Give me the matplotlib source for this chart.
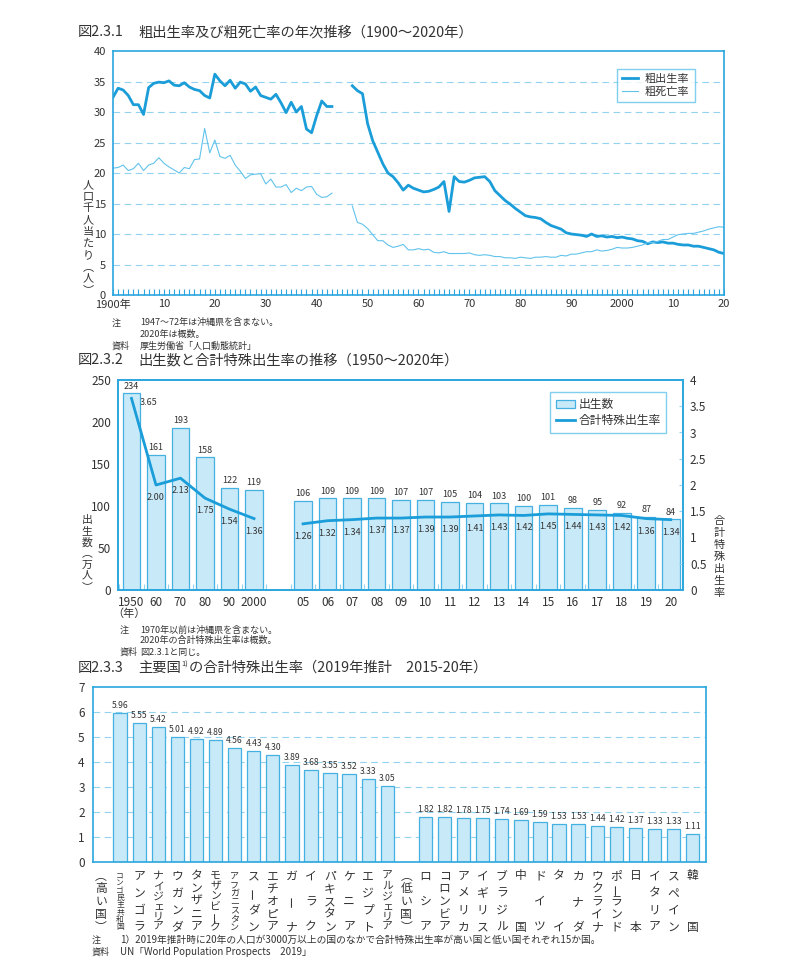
import matplotlib
matplotlib.use("Agg")
import matplotlib.pyplot as plt
import matplotlib.transforms as mtransforms
from matplotlib.patches import Patch
from matplotlib.lines import Line2D
import numpy as np

plt.rcParams['font.family'] = ['Noto Sans CJK JP', 'DejaVu Sans']
plt.rcParams['axes.unicode_minus'] = False

# ---- 図2.3.1 data (per 1000 population) ----
years_pre = list(range(1900, 1944))
birth_pre = [32.4, 33.9, 33.6, 32.7, 31.2, 31.2, 29.6, 34.0, 34.7, 34.9,
             34.8, 35.1, 34.4, 34.3, 34.8, 34.1, 33.7, 33.5, 32.7, 32.3,
             36.2, 35.1, 34.3, 35.2, 33.9, 34.9, 34.6, 33.4, 34.1, 32.7,
             32.4, 32.1, 32.9, 31.5, 29.9, 31.6, 30.0, 30.9, 27.2, 26.6,
             29.4, 31.8, 30.9, 30.9]
death_pre = [20.8, 20.9, 21.3, 20.4, 20.7, 21.6, 20.4, 21.3, 21.6, 22.5,
             21.6, 21.0, 20.5, 20.0, 20.9, 20.7, 22.2, 22.3, 27.3, 23.3,
             25.4, 22.7, 22.4, 22.9, 21.3, 20.3, 19.1, 19.7, 19.8, 19.9,
             18.2, 19.0, 17.7, 17.7, 18.1, 16.8, 17.5, 17.1, 17.7, 17.8,
             16.5, 16.0, 16.1, 16.7]
years_post = list(range(1947, 2021))
birth_post = [34.3, 33.5, 33.0,
              28.1, 25.3, 23.4, 21.5, 20.0, 19.4, 18.4, 17.2, 18.0, 17.5,
              17.2, 16.9, 17.0, 17.3, 17.7, 18.6, 13.7, 19.4, 18.6, 18.5,
              18.8, 19.2, 19.3, 19.4, 18.6, 17.1, 16.3, 15.5, 14.9, 14.2,
              13.6, 13.0, 12.8, 12.7, 12.5, 11.9, 11.4, 11.1, 10.8, 10.2,
              10.0, 9.9, 9.8, 9.6, 10.0, 9.6, 9.7, 9.5, 9.6, 9.4,
              9.5, 9.3, 9.2, 8.9, 8.8, 8.4, 8.7, 8.6, 8.7, 8.5,
              8.5, 8.3, 8.2, 8.2, 8.0, 8.0, 7.8, 7.6, 7.4, 7.0,
              6.8]
death_post = [14.6, 11.9, 11.6,
              10.9, 9.9, 8.9, 8.9, 8.2, 7.8, 8.0, 8.3, 7.4, 7.4,
              7.6, 7.4, 7.5, 7.0, 6.9, 7.1, 6.8, 6.8, 6.8, 6.8,
              6.9, 6.6, 6.5, 6.6, 6.5, 6.3, 6.3, 6.1, 6.1, 6.0,
              6.2, 6.1, 6.0, 6.2, 6.2, 6.3, 6.2, 6.2, 6.5, 6.4,
              6.7, 6.7, 6.9, 7.1, 7.1, 7.4, 7.2, 7.3, 7.5, 7.8,
              7.7, 7.7, 7.8, 8.0, 8.2, 8.6, 8.6, 8.8, 9.1, 9.1,
              9.5, 9.9, 10.0, 10.1, 10.1, 10.3, 10.5, 10.8, 11.0, 11.2,
              11.1]
decade_ticks = list(range(1900, 2021, 10))
decade_labels = ['1900年', '10', '20', '30', '40', '50', '60', '70', '80',
                 '90', '2000', '10', '20']

# ---- 図2.3.2 data ----
year_labels2 = ['1950', '60', '70', '80', '90', '2000',
                '05', '06', '07', '08', '09', '10', '11', '12', '13', '14',
                '15', '16', '17', '18', '19', '20']
births = [234, 161, 193, 158, 122, 119,
          106, 109, 109, 109, 107, 107, 105, 104, 103, 100, 101, 98, 95, 92, 87, 84]
tfr = [3.65, 2.00, 2.13, 1.75, 1.54, 1.36,
       1.26, 1.32, 1.34, 1.37, 1.37, 1.39, 1.39, 1.41, 1.43, 1.42, 1.45, 1.44,
       1.43, 1.42, 1.36, 1.34]

# ---- 図2.3.3 data ----
high_countries = ['コンゴ民主共和国', 'アンゴラ', 'ナイジェリア', 'ウガンダ', 'タンザニア',
                  'モザンビーク', 'アフガニスタン', 'スーダン', 'エチオピア', 'ガーナ',
                  'イラク', 'パキスタン', 'ケニア', 'エジプト', 'アルジェリア']
high_tfr = [5.96, 5.55, 5.42, 5.01, 4.92, 4.89, 4.56, 4.43, 4.30, 3.89,
            3.68, 3.55, 3.52, 3.33, 3.05]
low_countries = ['ロシア', 'コロンビア', 'アメリカ', 'イギリス', 'ブラジル', '中国', 'ドイツ',
                 'タイ', 'カナダ', 'ウクライナ', 'ポーランド', '日本', 'イタリア', 'スペイン', '韓国']
low_tfr = [1.82, 1.82, 1.78, 1.75, 1.74, 1.69, 1.59, 1.53, 1.53, 1.44,
           1.42, 1.37, 1.33, 1.33, 1.11]

SPINE = '#2ba6de'
LINE = '#1a9dd8'
LIGHT = '#62c3ec'
GRID = '#93d3ef'
BARF = '#c8e9f8'
BARE = '#45b1e2'
TXT = '#333333'
TSIZE = 10.3

W, H = 800, 960
fig = plt.figure(figsize=(8, 9.6), dpi=100)


def box(x0, y0, x1, y1):
    return [x0 / W, 1 - y1 / H, (x1 - x0) / W, (y1 - y0) / H]


def ftext(x, y, s, size=6.5, **kw):
    kw.setdefault('va', 'center')
    return fig.text(x / W, 1 - y / H, s, fontsize=size, color=TXT, **kw)


def vtext(x, y_top, y_bot, s, size, transform=None):
    # vertical (tategaki) text, characters spread from top to bottom
    n = len(s)
    for k, c in enumerate(s):
        yy = y_top if n == 1 else y_top + (y_bot - y_top) * k / (n - 1)
        rot = 90 if c == 'ー' else 0
        if transform is None:
            fig.text(x / W, 1 - yy / H, c, fontsize=size, color=TXT,
                     ha='center', va='center', rotation=rot)
        else:
            fig.text(x, 1 - yy / H, c, fontsize=size, color=TXT,
                     ha='center', va='center', rotation=rot, transform=transform)


def frame(ax):
    for sp in ax.spines.values():
        sp.set_color(SPINE)
        sp.set_linewidth(1.2)


# ================= 図2.3.1 =================
ftext(78, 32, '図2.3.1', size=TSIZE, ha='left')
ftext(138, 32, '粗出生率及び粗死亡率の年次推移（1900〜2020年）', size=TSIZE, ha='left')

ax1 = fig.add_axes(box(113, 51, 724, 295))
frame(ax1)
ax1.plot(years_pre, birth_pre, color=LINE, lw=2.0)
ax1.plot(years_post, birth_post, color=LINE, lw=2.0, label='粗出生率')
ax1.plot(years_pre, death_pre, color=LIGHT, lw=0.8)
ax1.plot(years_post, death_post, color=LIGHT, lw=0.8, label='粗死亡率')
ax1.set_xlim(1900, 2020)
ax1.set_ylim(0, 40)
ax1.set_yticks(range(0, 41, 5))
for v in range(5, 40, 5):
    ax1.axhline(v, color=GRID, lw=0.8, dashes=(6, 4), zorder=0)
ax1.set_xticks(decade_ticks)
ax1.set_xticklabels(decade_labels)
ax1.set_xticks(range(1900, 2021), minor=True)
ax1.tick_params(axis='x', which='both', direction='in', length=4, color=SPINE,
                width=0.8, labelsize=8, labelcolor=TXT, pad=3)
ax1.tick_params(axis='y', length=0, labelsize=8, labelcolor=TXT, pad=5)
leg1 = ax1.legend(loc='upper right', bbox_to_anchor=(0.961, 0.951), fontsize=8,
                  frameon=True, fancybox=False, handlelength=1.4, borderpad=0.5,
                  labelspacing=0.2, handletextpad=0.6)
leg1.get_frame().set_edgecolor(LIGHT)
leg1.get_frame().set_linewidth(1.0)
for t in leg1.get_texts():
    t.set_color(TXT)
vtext(88, 185, 290, '人口千人当たり︵人︶', 8)

ftext(112, 323, '注', ha='left')
ftext(140, 323, '1947〜72年は沖縄県を含まない。', ha='left')
ftext(140, 335, '2020年は概数。', ha='left')
ftext(112, 346, '資料', ha='left')
ftext(140, 346, '厚生労働省「人口動態統計」', ha='left')

# ================= 図2.3.2 =================
ftext(78, 360, '図2.3.2', size=TSIZE, ha='left')
ftext(138, 360, '出生数と合計特殊出生率の推移（1950〜2020年）', size=TSIZE, ha='left')

ax2 = fig.add_axes(box(118, 380, 683, 590))
frame(ax2)
pos = list(range(6)) + list(range(7, 7 + len(births) - 6))
ax2.bar(pos, births, width=0.72, color=BARF, edgecolor=BARE, linewidth=0.9)
for x, b in zip(pos, births):
    ax2.annotate(str(b), (x, b), xytext=(0, 2), textcoords='offset points',
                 ha='center', va='bottom', fontsize=6.5, color=TXT)
ax2.set_xlim(-0.55, pos[-1] + 0.45)
ax2.set_ylim(0, 250)
ax2.set_yticks(range(0, 251, 50))
ax2.set_xticks(pos)
ax2.set_xticklabels(year_labels2)
ax2.set_xticks([p + 0.5 for p in range(-1, pos[-1] + 1)], minor=True)
ax2.tick_params(axis='x', which='major', length=0, labelsize=8.5, labelcolor=TXT, pad=4)
ax2.tick_params(axis='x', which='minor', direction='in', length=4, color=GRID, width=0.8)
ax2.tick_params(axis='y', length=0, labelsize=8.5, labelcolor=TXT, pad=5)
ax2.annotate('（年）', (0, 0), xycoords=('data', 'axes fraction'), xytext=(-2, -17),
             textcoords='offset points', ha='center', va='center', fontsize=8, color=TXT)

ax2r = ax2.twinx()
frame(ax2r)
ax2r.plot(pos[:6], tfr[:6], color=LINE, lw=2.0)
ax2r.plot(pos[6:], tfr[6:], color=LINE, lw=2.0)
for i, (x, v) in enumerate(zip(pos, tfr)):
    off = (12, -3) if i == 0 else (0, -9)
    ax2r.annotate(f'{v:.2f}', (x, v), xytext=off, textcoords='offset points',
                  ha='center', va='center', fontsize=6.5, color=TXT)
ax2r.set_ylim(0, 4)
ax2r.set_yticks(np.arange(0, 4.01, 0.5))
ax2r.set_yticklabels(['0', '0.5', '1', '1.5', '2', '2.5', '3', '3.5', '4'])
ax2r.tick_params(axis='y', direction='in', length=3, color=GRID, labelsize=8.5,
                 labelcolor=TXT, pad=5)
handles2 = [Patch(facecolor=BARF, edgecolor=BARE, linewidth=0.9),
            Line2D([], [], color=LINE, lw=2.0)]
leg2 = ax2r.legend(handles2, ['出生数', '合計特殊出生率'], loc='upper right',
                   bbox_to_anchor=(0.981, 0.971), fontsize=8.5, frameon=True,
                   fancybox=False, handlelength=1.6, borderpad=0.5, labelspacing=0.3,
                   handletextpad=0.3)
leg2.get_frame().set_edgecolor(LIGHT)
leg2.get_frame().set_linewidth(1.0)
for t in leg2.get_texts():
    t.set_color(TXT)
vtext(87, 520, 587, '出生数︵万人︶', 7.8)
vtext(719, 521, 593, '合計特殊出生率', 8)

ftext(120, 630, '注', ha='left')
ftext(140, 630, '1970年以前は沖縄県を含まない。', ha='left')
ftext(140, 641, '2020年の合計特殊出生率は概数。', ha='left')
ftext(120, 652, '資料', ha='left')
ftext(140, 652, '図2.3.1と同じ。', ha='left')

# ================= 図2.3.3 =================
ax3 = fig.add_axes(box(93, 687, 706, 862))
frame(ax3)

ftext(78, 668, '図2.3.3', size=TSIZE, ha='left')
t1 = ftext(138, 668, '主要国', size=TSIZE, ha='left')
t2 = ax3.annotate('1)', xy=(1, 1), xycoords=t1, xytext=(0.5, 0),
                  textcoords='offset points', ha='left', va='top', fontsize=5.5, color=TXT)
ax3.annotate('の合計特殊出生率（2019年推計　2015-20年）', xy=(1, 0), xycoords=(t2, t1),
             xytext=(0.5, 0), textcoords='offset points', ha='left', va='bottom',
             fontsize=TSIZE, color=TXT)

labels3 = ['︵高い国︶'] + high_countries + ['︵低い国︶'] + low_countries
x_high = list(range(1, 1 + len(high_tfr)))
x_low = list(range(2 + len(high_tfr), 2 + len(high_tfr) + len(low_tfr)))
ax3.bar(x_high + x_low, high_tfr + low_tfr, width=0.7, color=BARF,
        edgecolor=BARE, linewidth=0.9, zorder=2)
for x, v in zip(x_high + x_low, high_tfr + low_tfr):
    ax3.annotate(f'{v:.2f}', (x, v), xytext=(0, 2), textcoords='offset points',
                 ha='center', va='bottom', fontsize=6.2, color=TXT)
ax3.set_xlim(-0.42, len(labels3) - 0.3)
ax3.set_ylim(0, 7)
ax3.set_yticks(range(0, 8))
for v in range(1, 7):
    ax3.axhline(v, color=GRID, lw=0.8, dashes=(6, 4), zorder=0)
ax3.set_xticks([])
ax3.tick_params(axis='y', length=0, labelsize=8.5, labelcolor=TXT, pad=6)

tr3 = mtransforms.blended_transform_factory(ax3.transData, fig.transFigure)
for i, lab in enumerate(labels3):
    n = len(lab)
    pitch = 52 / max(n - 1, 1)
    vtext(i, 876, 927, lab, min(8.5, pitch * 0.75), transform=tr3)

ftext(92, 940, '注', ha='left')
ftext(120, 940, '1）2019年推計時に20年の人口が3000万以上の国のなかで合計特殊出生率が高い国と低い国それぞれ15か国。',
      ha='left', size=7)
ftext(92, 952, '資料', ha='left')
ftext(120, 952, 'UN「World Population Prospects　2019」', ha='left', size=7)

fig.savefig('out.png', dpi=100)
